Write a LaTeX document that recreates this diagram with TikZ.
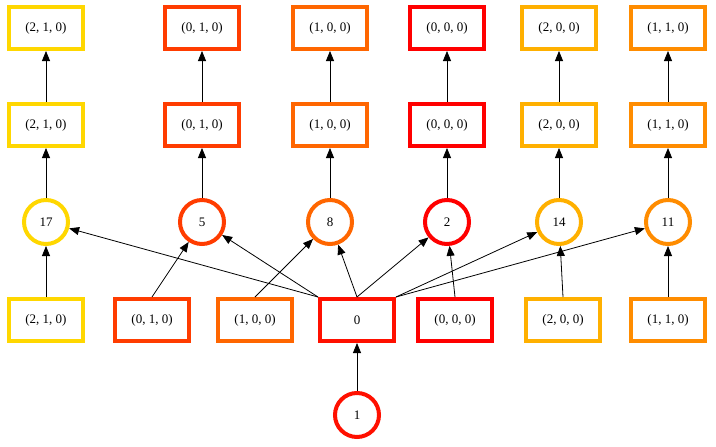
\documentclass[tikz,border=0pt]{standalone}
\usepackage{fontspec}
\setmainfont{Liberation Serif}
\usetikzlibrary{arrows.meta}
\definecolor{cY}{HTML}{FFD700}
\definecolor{cA}{HTML}{FF3C00}
\definecolor{cB}{HTML}{FF6600}
\definecolor{cR}{HTML}{FF1000}
\definecolor{cZ}{HTML}{FF0000}
\definecolor{cG}{HTML}{FFB000}
\definecolor{cO}{HTML}{FF8C00}
\begin{document}
\begin{tikzpicture}[x=1pt,y=-1pt,
  bx/.style={draw=#1,line width=4pt,minimum width=74pt,minimum height=42pt,inner sep=0pt,fill=white,font=\fontsize{13}{15}\selectfont},
  cc/.style={draw=#1,line width=4pt,circle,minimum size=44pt,inner sep=0pt,fill=white,font=\fontsize{13}{15}\selectfont},
  ar/.style={-{Triangle[length=10pt,width=8pt]},line width=0.8pt}]
\useasboundingbox (0,0) rectangle (716,447);
% columns
\foreach \n/\x/\c/\t/\v in {a/46/cY/{(2, 1, 0)}/17, b/202/cA/{(0, 1, 0)}/5, c/330/cB/{(1, 0, 0)}/8, d/447/cZ/{(0, 0, 0)}/2, e/559/cG/{(2, 0, 0)}/14, f/668/cO/{(1, 1, 0)}/11}{
  \node[bx=\c] (\n t) at (\x,28) {\t};
  \node[bx=\c] (\n m) at (\x,125) {\t};
  \node[cc=\c] (\n c) at (\x,222) {\v};
  \draw[ar] (\n m) -- (\n t);
  \draw[ar] (\n c) -- (\n m);
}
\node[bx=cY] (ab) at (46,320) {(2, 1, 0)};
\node[bx=cA] (bb) at (152,320) {(0, 1, 0)};
\node[bx=cB] (cb) at (255,320) {(1, 0, 0)};
\node[bx=cR] (z) at (357,320) {0};
\node[bx=cZ] (db) at (455,320) {(0, 0, 0)};
\node[bx=cG] (eb) at (563,320) {(2, 0, 0)};
\node[bx=cO] (fb) at (668,320) {(1, 1, 0)};
\node[cc=cR] (r) at (357,415) {1};
\draw[ar] (r) -- (z);
\draw[ar] (ab) -- (ac);
\draw[ar] (bb.north) -- (bc);
\draw[ar] (cb.north) -- (cc);
\draw[ar] (db.north) -- (dc);
\draw[ar] (eb.north) -- (ec);
\draw[ar] (fb.north) -- (fc);
\draw[ar] (z.north west) -- (ac);
\draw[ar] (z.north west) -- (bc);
\draw[ar] (z.north) -- (cc);
\draw[ar] (z.north) -- (dc);
\draw[ar] (z.north east) -- (ec);
\draw[ar] (z.north east) -- (fc);
\end{tikzpicture}
\end{document}
